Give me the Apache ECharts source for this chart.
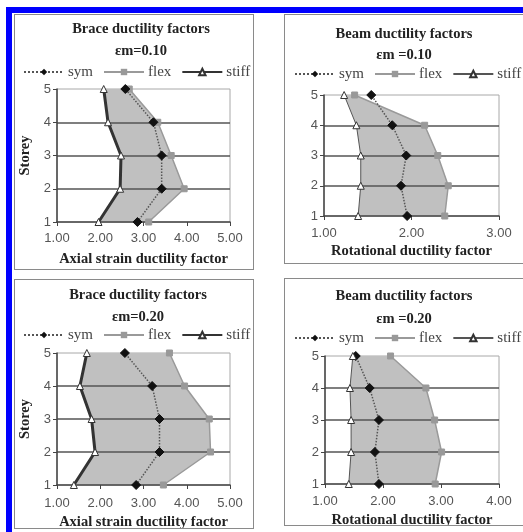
<!DOCTYPE html>
<html><head><meta charset="utf-8">
<script src="https://cdn.jsdelivr.net/npm/echarts@6/dist/echarts.min.js"></script>
<style>
html,body{margin:0;padding:0;background:#fff;width:523px;height:532px;overflow:hidden;position:relative}
.blue{position:absolute;background:#0000ff}
.panel{position:absolute;border:1px solid #8a8a8a;background:#fff;box-sizing:border-box}
</style></head>
<body>
<div class="blue" style="left:6px;top:7px;width:517px;height:6px"></div>
<div class="blue" style="left:6px;top:7px;width:6px;height:525px"></div>
<div id="p1" class="panel" style="left:14px;top:14px;width:240px;height:256px"></div>
<div id="p2" class="panel" style="left:284px;top:14px;width:240px;height:250px"></div>
<div id="p3" class="panel" style="left:14px;top:279px;width:240px;height:250px"></div>
<div id="p4" class="panel" style="left:284px;top:278px;width:240px;height:248px"></div>
<script>
// ---- data ----
const storeys = [1, 2, 3, 4, 5];
const yTicks = ['1', '2', '3', '4', '5'];
const braceTicks = ['1.00', '2.00', '3.00', '4.00', '5.00'];
const beam10Ticks = ['1.00', '2.00', '3.00'];
const beam20Ticks = ['1.00', '2.00', '3.00', '4.00'];
const seriesNames = ['sym', 'flex', 'stiff'];

// Brace ductility factors, em = 0.10 (storey 1..5)
const brace10Sym   = [2.86, 3.42, 3.42, 3.23, 2.58];
const brace10Flex  = [3.12, 3.94, 3.64, 3.33, 2.67];
const brace10Stiff = [1.96, 2.46, 2.48, 2.18, 2.08];
// Beam ductility factors, em = 0.10
const beam10Sym   = [1.95, 1.88, 1.94, 1.78, 1.54];
const beam10Flex  = [2.38, 2.42, 2.30, 2.15, 1.35];
const beam10Stiff = [1.39, 1.42, 1.42, 1.37, 1.23];
// Brace ductility factors, em = 0.20
const brace20Sym   = [2.83, 3.37, 3.37, 3.20, 2.57];
const brace20Flex  = [3.46, 4.55, 4.52, 3.95, 3.60];
const brace20Stiff = [1.39, 1.88, 1.80, 1.53, 1.69];
// Beam ductility factors, em = 0.20
const beam20Sym   = [1.93, 1.86, 1.93, 1.77, 1.53];
const beam20Flex  = [2.90, 3.01, 2.89, 2.74, 2.13];
const beam20Stiff = [1.41, 1.45, 1.45, 1.43, 1.48];

const serif = '"Liberation Serif","DejaVu Serif",serif';
const sans = '"Liberation Sans",Arial,sans-serif';
const TFS = 14.5;

function makeChart(el, cfg) {
  const chart = echarts.init(document.getElementById(el), null, {renderer: 'canvas'});
  const pts = arr => arr.map((v, i) => [v, storeys[i]]);
  const ticks = cfg.ticks;
  const option = {
    animation: false,
    title: [
      {text: cfg.title, left: cfg.cx, top: cfg.titleTop, textAlign: 'center', padding: 0,
       textStyle: {fontFamily: serif, fontWeight: 'bold', fontSize: TFS, color: '#222'}},
      {text: cfg.sub, left: cfg.cx, top: cfg.subTop, textAlign: 'center', padding: 0,
       textStyle: {fontFamily: serif, fontWeight: 'bold', fontSize: TFS, color: '#222'}}
    ],
    legend: {
      data: seriesNames, top: cfg.legendTop, left: cfg.legendLeft, padding: 0,
      itemWidth: 40, itemHeight: 8, itemGap: 10,
      textStyle: {fontFamily: serif, fontSize: 15, color: '#444', padding: [0, 0, 0, -1]}
    },
    grid: {left: cfg.grid[0], top: cfg.grid[1], width: cfg.grid[2], height: cfg.grid[3],
           containLabel: false, outerBoundsMode: 'none',
           show: true, borderColor: '#a8a8a8', borderWidth: 1, backgroundColor: 'transparent'},
    xAxis: {
      type: 'value', min: 1, max: 1 + ticks.length - 1, interval: 1, z: 3,
      name: cfg.xName, nameLocation: 'middle', nameGap: cfg.xNameGap,
      nameTextStyle: {fontFamily: serif, fontWeight: 'bold', fontSize: TFS, color: '#222'},
      axisLine: {show: true, lineStyle: {color: '#444', width: 1.5}},
      axisTick: {show: true, length: 4, lineStyle: {color: '#444'}},
      axisLabel: {fontFamily: sans, fontSize: 13, color: '#555', margin: cfg.xLabMargin,
                  formatter: v => ticks[Math.round(v - 1)]},
      splitLine: {show: false}
    },
    yAxis: {
      type: 'value', min: 1, max: 5, interval: 1, z: 3,
      name: cfg.yName, nameLocation: 'middle', nameGap: 23, nameRotate: 90,
      nameTextStyle: {fontFamily: serif, fontWeight: 'bold', fontSize: TFS, color: '#222'},
      axisLine: {show: true, lineStyle: {color: '#444', width: 1.5}},
      axisTick: {show: true, length: 4, lineStyle: {color: '#444'}},
      axisLabel: {fontFamily: sans, fontSize: 13, color: '#555', margin: 6,
                  formatter: v => yTicks[Math.round(v - 1)]},
      splitLine: {show: true, showMinLine: false, showMaxLine: false,
                  lineStyle: {color: '#555', width: 1.5}}
    },
    series: [
      {
        type: 'custom', z: 1, silent: true, data: [0],
        renderItem: (params, api) => {
          const a = cfg.stiff.map((v, i) => api.coord([v, storeys[i]]));
          const b = cfg.flex.map((v, i) => api.coord([v, storeys[i]])).reverse();
          return {type: 'polygon', shape: {points: a.concat(b)},
                  style: {fill: '#c0c0c0', stroke: null}};
        }
      },
      {name: 'sym', type: 'line', z: 5, data: pts(cfg.sym), symbol: 'diamond', symbolSize: 9,
       itemStyle: {color: '#111', borderColor: '#111'},
       lineStyle: {color: '#555', width: 1.5, type: 'dotted'}},
      {name: 'flex', type: 'line', z: 4, data: pts(cfg.flex), symbol: 'rect', symbolSize: 6,
       itemStyle: {color: '#999', borderColor: '#999'},
       lineStyle: {color: '#9a9a9a', width: 1.5}},
      {name: 'stiff', type: 'line', z: 6, data: pts(cfg.stiff), symbol: 'triangle', symbolSize: 7,
       itemStyle: {color: '#fff', borderColor: '#333', borderWidth: 1},
       lineStyle: {color: cfg.stiffColor, width: cfg.stiffWidth}}
    ]
  };
  chart.setOption(option);
}

makeChart('p1', {title: 'Brace ductility factors', sub: 'εm=0.10', cx: 126,
  titleTop: 6.5, subTop: 28.5, legendTop: 49.5, legendLeft: 8,
  grid: [42, 74, 173, 133], ticks: braceTicks, xName: 'Axial strain ductility factor', xNameGap: 30,
  xLabMargin: 10, yName: 'Storey', sym: brace10Sym, flex: brace10Flex, stiff: brace10Stiff, stiffColor: '#333', stiffWidth: 3});
makeChart('p2', {title: 'Beam ductility factors', sub: 'εm =0.10', cx: 119,
  titleTop: 11.5, subTop: 32.5, legendTop: 51.5, legendLeft: 9,
  grid: [39, 80, 175, 121], ticks: beam10Ticks, xName: 'Rotational ductility factor', xNameGap: 28,
  xLabMargin: 11, yName: '', sym: beam10Sym, flex: beam10Flex, stiff: beam10Stiff, stiffColor: '#555', stiffWidth: 1});
makeChart('p3', {title: 'Brace ductility factors', sub: 'εm=0.20', cx: 123,
  titleTop: 7.5, subTop: 29.5, legendTop: 47.5, legendLeft: 8,
  grid: [42, 73, 173, 132], ticks: braceTicks, xName: 'Axial strain ductility factor', xNameGap: 29,
  xLabMargin: 12, yName: 'Storey', sym: brace20Sym, flex: brace20Flex, stiff: brace20Stiff, stiffColor: '#333', stiffWidth: 3});
makeChart('p4', {title: 'Beam ductility factors', sub: 'εm =0.20', cx: 119,
  titleTop: 9.5, subTop: 32.5, legendTop: 51.5, legendLeft: 9,
  grid: [40, 77, 174, 128], ticks: beam20Ticks, xName: 'Rotational ductility factor', xNameGap: 28,
  xLabMargin: 11, yName: '', sym: beam20Sym, flex: beam20Flex, stiff: beam20Stiff, stiffColor: '#555', stiffWidth: 1});
</script>
</body></html>
